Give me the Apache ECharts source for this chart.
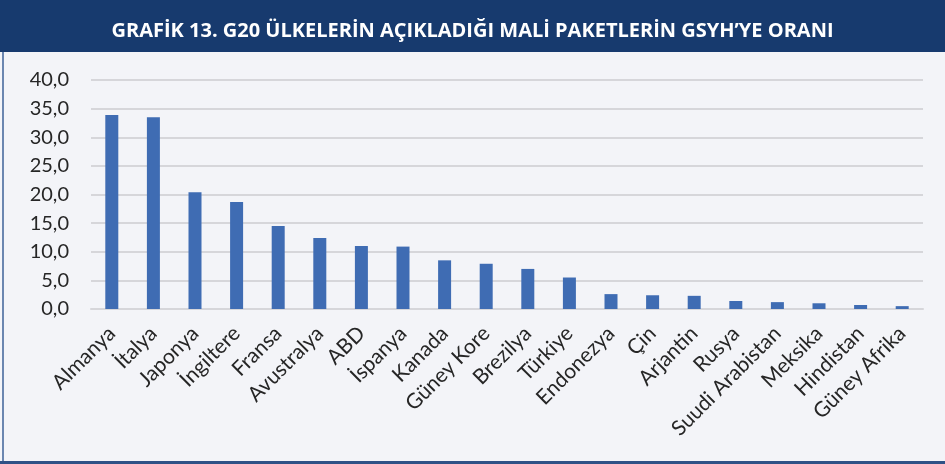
<!DOCTYPE html>
<html>
<head>
<meta charset="utf-8">
<script src="https://cdn.jsdelivr.net/npm/echarts@6/dist/echarts.min.js"></script>
<style>
  html, body { margin: 0; padding: 0; background: #f3f4f8; }
  #chart { width: 945px; height: 464px; }
</style>
</head>
<body>
<div id="chart"></div>
<script>
const titleText = 'GRAFİK 13. G20 ÜLKELERİN AÇIKLADIĞI MALİ PAKETLERİN GSYH’YE ORANI';

const countries = [
  'Almanya', 'İtalya', 'Japonya', 'İngiltere', 'Fransa', 'Avustralya', 'ABD',
  'İspanya', 'Kanada', 'Güney Kore', 'Brezilya', 'Türkiye', 'Endonezya', 'Çin',
  'Arjantin', 'Rusya', 'Suudi Arabistan', 'Meksika', 'Hindistan', 'Güney Afrika'
];

const ratios = [
  33.9, 33.5, 20.4, 18.7, 14.5, 12.4, 11.0,
  10.9, 8.5, 7.9, 7.0, 5.5, 2.6, 2.4,
  2.3, 1.4, 1.2, 1.0, 0.7, 0.5
];

const yTicks = [0, 5, 10, 15, 20, 25, 30, 35, 40];

const chartInstance = echarts.init(document.getElementById('chart'));

const option = {
  backgroundColor: '#f3f4f8',
  textStyle: { fontFamily: 'Lato, "Noto Sans", sans-serif' },
  title: {
    text: titleText,
    left: 'center',
    top: 16,
    textStyle: {
      color: '#ffffff',
      fontSize: 20,
      fontWeight: 'bold',
      fontFamily: '"Open Sans", sans-serif'
    }
  },
  graphic: [
    {
      type: 'rect',
      z: -1,
      shape: { x: 0, y: 0, width: 945, height: 52 },
      style: { fill: '#173a6e' }
    },
    {
      type: 'rect',
      shape: { x: 2, y: 52, width: 2, height: 412 },
      style: { fill: '#6b86b0' }
    },
    {
      type: 'rect',
      shape: { x: 0, y: 461, width: 945, height: 3 },
      style: { fill: '#2f5186' }
    }
  ],
  grid: {
    left: 91,
    right: 22,
    top: 80,
    bottom: 155,
    containLabel: false
  },
  xAxis: {
    type: 'category',
    data: countries,
    axisLine: { show: true, lineStyle: { color: '#d6d6da', width: 2 } },
    axisTick: { show: false },
    axisLabel: {
      interval: 0,
      rotate: 45,
      margin: 21,
      fontSize: 21,
      color: '#262626'
    }
  },
  yAxis: {
    type: 'value',
    min: yTicks[0],
    max: yTicks[yTicks.length - 1],
    interval: 5,
    axisLine: { show: false },
    axisTick: { show: false },
    splitLine: { lineStyle: { color: '#d6d6da', width: 2 } },
    axisLabel: {
      margin: 22,
      fontSize: 20,
      color: '#262626',
      formatter: (value) => value.toFixed(1).replace('.', ',')
    }
  },
  series: [
    {
      type: 'bar',
      data: ratios,
      barWidth: 13,
      itemStyle: {
        color: '#3f6cb3'
      }
    }
  ]
};

chartInstance.setOption(option);
</script>
</body>
</html>
